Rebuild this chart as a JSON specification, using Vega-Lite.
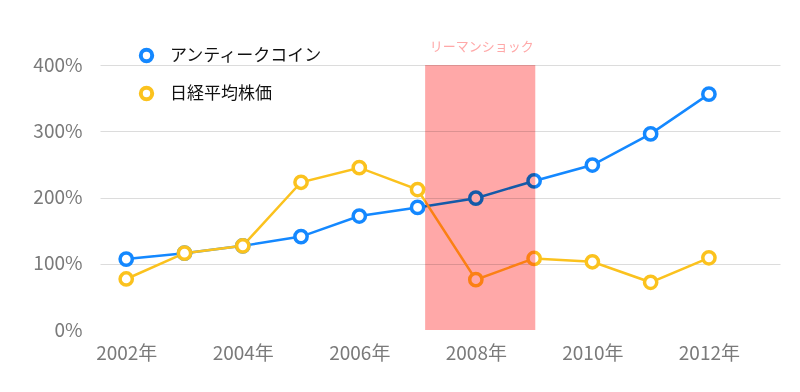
{
  "$schema": "https://vega.github.io/schema/vega-lite/v6.json",
  "width": 680,
  "height": 265,
  "autosize": {"type": "none"},
  "padding": {"left": 100, "top": 65, "right": 20, "bottom": 62},
  "background": "white",
  "config": {
    "view": {"stroke": null},
    "font": "Noto Sans CJK JP"
  },
  "datasets": {
    "series": [
      {"year": 2002, "series": "アンティークコイン", "value": 107},
      {"year": 2003, "series": "アンティークコイン", "value": 116},
      {"year": 2004, "series": "アンティークコイン", "value": 127},
      {"year": 2005, "series": "アンティークコイン", "value": 141},
      {"year": 2006, "series": "アンティークコイン", "value": 172},
      {"year": 2007, "series": "アンティークコイン", "value": 185},
      {"year": 2008, "series": "アンティークコイン", "value": 199},
      {"year": 2009, "series": "アンティークコイン", "value": 225},
      {"year": 2010, "series": "アンティークコイン", "value": 249},
      {"year": 2011, "series": "アンティークコイン", "value": 296},
      {"year": 2012, "series": "アンティークコイン", "value": 356},
      {"year": 2002, "series": "日経平均株価", "value": 77},
      {"year": 2003, "series": "日経平均株価", "value": 116},
      {"year": 2004, "series": "日経平均株価", "value": 127},
      {"year": 2005, "series": "日経平均株価", "value": 223},
      {"year": 2006, "series": "日経平均株価", "value": 245},
      {"year": 2007, "series": "日経平均株価", "value": 212},
      {"year": 2008, "series": "日経平均株価", "value": 76},
      {"year": 2009, "series": "日経平均株価", "value": 108},
      {"year": 2010, "series": "日経平均株価", "value": 103},
      {"year": 2011, "series": "日経平均株価", "value": 72},
      {"year": 2012, "series": "日経平均株価", "value": 109}
    ],
    "band": [
      {"start": 2007.13, "end": 2009.02, "mid": 2008.1, "top": 400, "bottom": 0, "label": "リーマンショック"}
    ]
  },
  "layer": [
    {
      "data": {"name": "series"},
      "mark": {"type": "line", "strokeWidth": 2.5},
      "encoding": {
        "x": {
          "field": "year", "type": "quantitative",
          "scale": {"domain": [2001.55, 2013.22], "nice": false, "zero": false},
          "axis": {
            "title": null, "values": [2002, 2004, 2006, 2008, 2010, 2012],
            "labelExpr": "datum.value + '年'", "grid": false, "domain": false, "ticks": false,
            "labelFontSize": 19, "labelColor": "#7a7a7a", "labelPadding": 14,
            "labelFont": "Noto Sans CJK JP"
          }
        },
        "y": {
          "field": "value", "type": "quantitative",
          "scale": {"domain": [0, 400], "nice": false},
          "axis": {
            "title": null, "values": [0, 100, 200, 300, 400],
            "labelExpr": "datum.value + '%'", "domain": false, "ticks": false,
            "labelFontSize": 19, "labelColor": "#7a7a7a", "labelPadding": 18,
            "gridColor": {"condition": {"test": "datum.value === 0", "value": "rgba(0,0,0,0)"}, "value": "#dcdcdc"},
            "labelFont": "Noto Sans CJK JP"
          }
        },
        "color": {
          "field": "series", "type": "nominal",
          "scale": {"domain": ["アンティークコイン", "日経平均株価"], "range": ["#1488ff", "#fbc21e"]}
        }
      }
    },
    {
      "data": {"name": "series"},
      "mark": {"type": "point", "filled": false, "fill": "white", "strokeWidth": 3.5, "size": 150, "opacity": 1},
      "encoding": {
        "x": {"field": "year", "type": "quantitative"},
        "y": {"field": "value", "type": "quantitative"},
        "color": {
          "field": "series", "type": "nominal",
          "legend": {
            "title": null, "orient": "none", "legendX": 38, "legendY": -18,
            "symbolType": "circle", "symbolSize": 130, "symbolStrokeWidth": 4, "symbolFillColor": "white",
            "labelFontSize": 17, "labelColor": "#111111", "labelOffset": 15, "rowPadding": 9,
            "labelFont": "Noto Sans CJK JP", "padding": 0
          }
        }
      }
    },
    {
      "data": {"name": "band"},
      "mark": {"type": "rect", "color": "#ffa8a8", "blend": "multiply", "opacity": 1},
      "encoding": {
        "x": {"field": "start", "type": "quantitative"},
        "x2": {"field": "end"},
        "y": {"field": "top", "type": "quantitative"},
        "y2": {"field": "bottom"}
      }
    },
    {
      "data": {"name": "band"},
      "mark": {"type": "text", "color": "#ffa8a8", "fontSize": 13, "dy": -18, "baseline": "middle", "align": "center", "font": "Noto Sans CJK JP"},
      "encoding": {
        "x": {"field": "mid", "type": "quantitative"},
        "y": {"field": "top", "type": "quantitative"},
        "text": {"field": "label"}
      }
    }
  ]
}
